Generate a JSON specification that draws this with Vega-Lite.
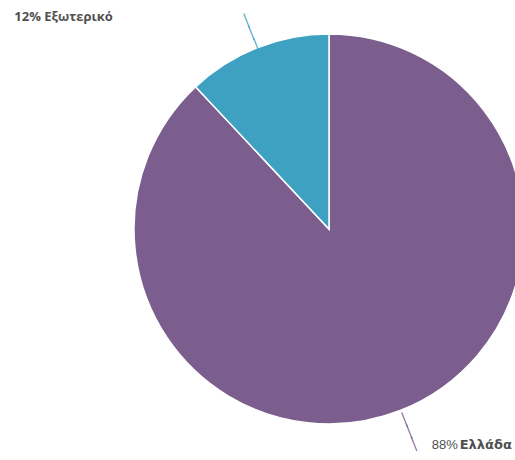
{
  "$schema": "https://vega.github.io/schema/vega-lite/v6.json",
  "autosize": {"type": "none"},
  "width": 372,
  "height": 458,
  "padding": {"left": 143, "top": 0, "right": 0, "bottom": 0},
  "background": "white",
  "view": {"stroke": null},
  "data": {"values": [
    {"label": "Ελλάδα", "value": 88},
    {"label": "Εξωτερικό", "value": 12}
  ]},
  "encoding": {
    "theta": {"field": "value", "type": "quantitative", "stack": true},
    "order": {"field": "value", "type": "quantitative", "sort": "descending"}
  },
  "layer": [
    {
      "mark": {"type": "arc", "radius": 195, "stroke": "white", "strokeWidth": 1.5},
      "encoding": {
        "color": {"field": "label", "type": "nominal", "legend": null,
          "scale": {"domain": ["Ελλάδα", "Εξωτερικό"], "range": ["#7b5e8d", "#3fa1c1"]}}
      }
    },
    {
      "mark": {"type": "text", "radius": 214.5, "angle": -21.6, "dy": -9, "fontSize": 13, "lineHeight": 13, "font": "DejaVu Sans", "baseline": "middle", "align": "center"},
      "encoding": {
        "text": {"value": ["│", "│", "│"]},
        "color": {"field": "label", "type": "nominal", "legend": null}
      }
    },
    {
      "mark": {"type": "text", "radius": 228.5, "align": "right", "dx": -132, "baseline": "middle", "font": "Open Sans", "fontSize": 13, "fontWeight": "bold", "color": "#505050"},
      "encoding": {
        "text": {"condition": {"test": "datum.label === 'Εξωτερικό'", "value": "12% Εξωτερικό"}, "value": ""}
      }
    },
    {
      "mark": {"type": "text", "radius": 232.8, "align": "left", "dx": 17, "baseline": "middle", "font": "Liberation Sans", "fontSize": 13, "color": "#505050"},
      "encoding": {
        "text": {"condition": {"test": "datum.label === 'Ελλάδα'", "value": "88%"}, "value": ""}
      }
    },
    {
      "mark": {"type": "text", "radius": 232.8, "align": "left", "dx": 45, "baseline": "middle", "font": "DejaVu Sans", "fontSize": 13, "fontWeight": "bold", "color": "#505050"},
      "encoding": {
        "text": {"condition": {"test": "datum.label === 'Ελλάδα'", "value": "Ελλάδα"}, "value": ""}
      }
    }
  ]
}
